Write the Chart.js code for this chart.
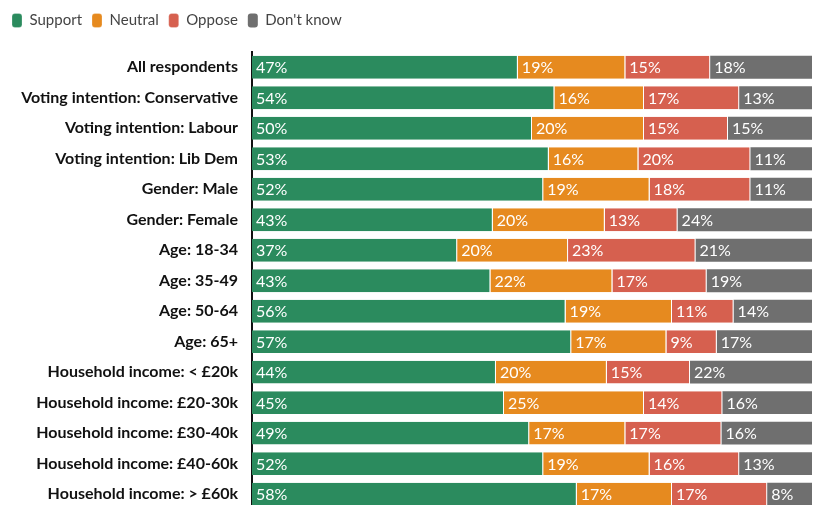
<!DOCTYPE html>
<html lang="en">
<head>
    <meta charset="UTF-8">
    <title>Support by group</title>
    <script src="https://cdn.jsdelivr.net/npm/chart.js"></script>
    <style>
        html, body { margin: 0; padding: 0; background: #fff; overflow: hidden; }
        .wrap { position: relative; width: 816px; height: 525px; }
    </style>
</head>
<body>
    <div class="wrap"><canvas id="chart"></canvas></div>
    <script>
        const categories = [
            'All respondents',
            'Voting intention: Conservative',
            'Voting intention: Labour',
            'Voting intention: Lib Dem',
            'Gender: Male',
            'Gender: Female',
            'Age: 18-34',
            'Age: 35-49',
            'Age: 50-64',
            'Age: 65+',
            'Household income: < £20k',
            'Household income: £20-30k',
            'Household income: £30-40k',
            'Household income: £40-60k',
            'Household income: > £60k'
        ];
        const support  = [47, 54, 50, 53, 52, 43, 37, 43, 56, 57, 44, 45, 49, 52, 58];
        const neutral  = [19, 16, 20, 16, 19, 20, 20, 22, 19, 17, 20, 25, 17, 19, 17];
        const oppose   = [15, 17, 15, 20, 18, 13, 23, 17, 11,  9, 15, 14, 17, 16, 17];
        const dontKnow = [18, 13, 15, 11, 11, 24, 21, 19, 14, 17, 22, 16, 16, 13,  8];

        const seriesNames = ['Support', 'Neutral', 'Oppose', "Don't know"];
        const seriesValues = [support, neutral, oppose, dontKnow];
        const seriesColors = ['#2b8b5e', '#e68a1f', '#d6604f', '#6f6f6f'];

        // each row is drawn as shares of its own total, so every bar fills the width
        const totals = categories.map((c, i) => seriesValues.reduce((s, arr) => s + arr[i], 0));

        const datasets = seriesValues.map((vals, k) => ({
            label: seriesNames[k],
            data: vals.map((v, i) => v / totals[i] * 100),
            raw: vals,
            backgroundColor: seriesColors[k],
            borderColor: '#ffffff',
            borderWidth: k < 3 ? { top: 0, bottom: 0, left: 0, right: 1 } : 0,
            borderSkipped: false,
            barPercentage: 0.75,
            categoryPercentage: 1.0
        }));

        // white percentage labels at the left of each segment
        const segmentLabels = {
            id: 'segmentLabels',
            afterDatasetsDraw(chart) {
                const ctx = chart.ctx;
                ctx.save();
                ctx.font = '16px Lato';
                ctx.fillStyle = '#ffffff';
                ctx.textBaseline = 'middle';
                ctx.textAlign = 'left';
                chart.data.datasets.forEach((ds, k) => {
                    chart.getDatasetMeta(k).data.forEach((bar, i) => {
                        ctx.fillText(ds.raw[i] + '%', bar.base + 4, bar.y + 1);
                    });
                });
                ctx.restore();
            }
        };

        // fixed legend block height so the bars start lower
        const legendGap = {
            id: 'legendGap',
            beforeInit(chart) {
                const fit = chart.legend.fit;
                chart.legend.fit = function () {
                    fit.bind(chart.legend)();
                    this.height = 49;
                };
            }
        };

        new Chart(document.getElementById('chart'), {
            type: 'bar',
            data: { labels: categories, datasets: datasets },
            plugins: [segmentLabels, legendGap],
            options: {
                indexAxis: 'y',
                responsive: true,
                maintainAspectRatio: false,
                animation: false,
                layout: { padding: { left: 2, right: 4, top: 3, bottom: 0 } },
                plugins: {
                    tooltip: { enabled: false },
                    legend: {
                        position: 'top',
                        align: 'start',
                        labels: {
                            boxWidth: 10,
                            boxHeight: 14,
                            useBorderRadius: true,
                            borderRadius: 3,
                            padding: 10,
                            color: '#444',
                            font: { family: 'Lato', size: 15 }
                        }
                    }
                },
                scales: {
                    x: {
                        stacked: true,
                        display: false,
                        min: 0,
                        max: 100
                    },
                    y: {
                        stacked: true,
                        grid: { display: false },
                        border: { color: '#111', width: 2 },
                        afterFit(scale) { scale.width = 250; },
                        ticks: {
                            padding: 6,
                            color: '#111',
                            font: { family: 'Lato', size: 16, weight: 'bold' }
                        }
                    }
                }
            }
        });
    </script>
</body>
</html>
